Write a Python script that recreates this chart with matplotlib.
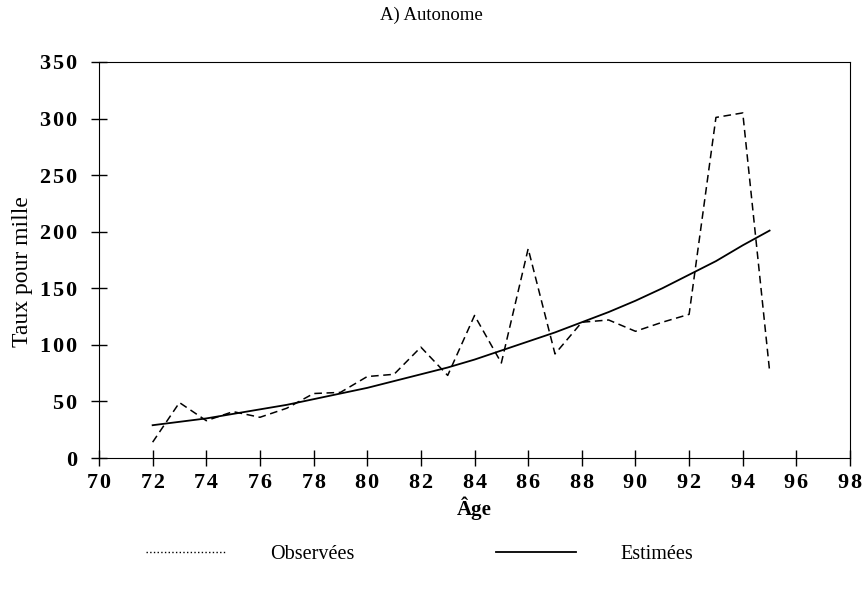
import matplotlib.pyplot as plt
from matplotlib.lines import Line2D
from matplotlib.ticker import FuncFormatter

plt.rcParams['font.family'] = ['Liberation Serif', 'DejaVu Serif']

ages = list(range(72, 96))
observees = [14, 49, 33, 41, 36, 44, 57, 58, 72, 74, 98, 73, 126, 84, 185, 92,
             120, 122, 112, 120, 127, 301, 305, 77]
estimees = [29, 32, 35, 39, 43, 47, 52, 57, 62, 68, 74, 80, 87, 95, 103, 111,
            120, 129, 139, 150, 162, 174, 188, 201]

xticks = list(range(70, 100, 2))
yticks = list(range(0, 400, 50))


def spaced(v, pos):
    # old typeset look: digits slightly apart
    return '\u200a'.join(str(int(v)))


fig = plt.figure(figsize=(8.63, 5.96), dpi=100)
ax = fig.add_axes([0.1147, 0.2315, 0.8703, 0.6645])

ax.plot(ages, observees, color='black', lw=1.1, ls=(0, (5, 3)))
ax.plot(ages, estimees, color='black', lw=1.3)

ax.set_xlim(70, 98)
ax.set_ylim(0, 350)
ax.set_xticks(xticks)
ax.set_yticks(yticks)
ax.xaxis.set_major_formatter(FuncFormatter(spaced))
ax.yaxis.set_major_formatter(FuncFormatter(spaced))
ax.tick_params(direction='inout', length=12, width=1, labelsize=16)
for lab in ax.get_xticklabels() + ax.get_yticklabels():
    lab.set_fontweight('bold')
ax.tick_params(axis='x', pad=5)
ax.tick_params(axis='y', pad=10)

ax.set_xlabel('Âge', fontsize=15, fontweight='bold', labelpad=2)
ax.set_ylabel('Taux pour mille', fontsize=17)
ax.yaxis.set_label_coords(-0.088, 0.47)
fig.suptitle('A) Autonome', fontsize=13.5, y=0.988)

handles = [Line2D([], [], color='black', lw=1, ls=':'),
           Line2D([], [], color='black', lw=1.3)]
fig.legend(handles, ['Observées', 'Estimées'], loc='center',
           bbox_to_anchor=(0.486, 0.069), ncol=2, frameon=False,
           fontsize=14.5, handlelength=4, handletextpad=2.2, columnspacing=7)

fig.savefig('out.png', dpi=100)
